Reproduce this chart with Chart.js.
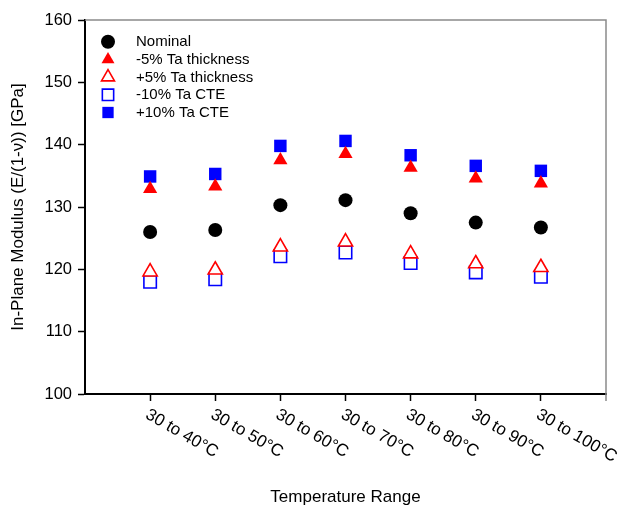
<!DOCTYPE html>
<html><head><meta charset="utf-8">
<script src="https://cdn.jsdelivr.net/npm/chart.js@4/dist/chart.umd.min.js"></script>
<style>html,body{margin:0;padding:0;background:#fff}</style>
</head><body>
<canvas id="c" width="641" height="507"></canvas>
<script>
const categories = ['30 to 40°C','30 to 50°C','30 to 60°C','30 to 70°C','30 to 80°C','30 to 90°C','30 to 100°C'];
const seriesLabels = ['Nominal','-5% Ta thickness','+5% Ta thickness','-10% Ta CTE','+10% Ta CTE'];
const nominal     = [126.0,126.3,130.3,131.1,129.0,127.5,126.7];
const minus5Thick = [132.9,133.3,137.5,138.5,136.3,134.6,133.8];
const plus5Thick  = [119.6,119.9,123.6,124.4,122.5,120.9,120.3];
const minus10CTE  = [118.0,118.4,122.1,122.7,121.0,119.5,118.8];
const plus10CTE   = [134.9,135.3,139.8,140.6,138.3,136.6,135.8];
const yTicks = [100,110,120,130,140,150,160];
const xTitle = 'Temperature Range';
const yTitle = 'In-Plane Modulus (E/(1-ν)) [GPa]';

const FONT = "'Liberation Sans', Arial, sans-serif";
const toPts = arr => arr.map((v, i) => ({x: i + 1, y: v}));

const styles = [
  {pointStyle:'circle',   radius:7,   bg:'#000000', border:'#000000', bw:0,   lr:7},
  {pointStyle:'triangle', radius:8.2, bg:'#ff0000', border:'#ff0000', bw:0,   lr:7.5},
  {pointStyle:'triangle', radius:8.2, bg:'#ffffff', border:'#ff0000', bw:1.6, lr:7.5},
  {pointStyle:'rect',     radius:8.8, bg:'#ffffff', border:'#0000ff', bw:1.6, lr:8},
  {pointStyle:'rect',     radius:8.8, bg:'#0000ff', border:'#0000ff', bw:0,   lr:8}
];
const seriesData = [nominal, minus5Thick, plus5Thick, minus10CTE, plus10CTE];

const datasets = seriesData.map((d, k) => ({
  label: seriesLabels[k],
  data: toPts(d),
  showLine: false,
  pointStyle: styles[k].pointStyle,
  pointRadius: styles[k].radius,
  pointHoverRadius: styles[k].radius,
  pointBackgroundColor: styles[k].bg,
  pointBorderColor: styles[k].border,
  pointBorderWidth: styles[k].bw,
  backgroundColor: styles[k].bg,
  borderColor: styles[k].border
}));

const framePlugin = {
  id: 'frame',
  afterDatasetsDraw(chart) {
    const {ctx, chartArea: a} = chart;
    ctx.save();
    ctx.strokeStyle = '#8a8a8a';
    ctx.lineWidth = 1.5;
    ctx.beginPath();
    ctx.moveTo(a.left, a.top);
    ctx.lineTo(a.right, a.top);
    ctx.lineTo(a.right, a.bottom + 7);
    ctx.stroke();
    ctx.restore();
  }
};

const xLabelPlugin = {
  id: 'xlabels',
  afterDraw(chart) {
    const {ctx} = chart;
    const sx = chart.scales.x;
    ctx.save();
    ctx.fillStyle = '#000';
    ctx.font = '17px ' + FONT;
    ctx.textAlign = 'left';
    ctx.textBaseline = 'top';
    categories.forEach((lab, i) => {
      const px = sx.getPixelForValue(i + 1);
      ctx.save();
      ctx.translate(px + 1, sx.top + 12);
      ctx.rotate(Math.PI / 6);
      ctx.fillText(lab, 0, 0);
      ctx.restore();
    });
    ctx.restore();
  }
};

const legendPlugin = {
  id: 'customLegend',
  afterDraw(chart) {
    const {ctx, chartArea: a} = chart;
    ctx.save();
    chart.data.datasets.forEach((ds, i) => {
      const cy = a.top + 21.7 + i * 17.7;
      const cx = a.left + 23;
      ctx.fillStyle = styles[i].bg;
      ctx.strokeStyle = styles[i].border;
      ctx.lineWidth = styles[i].bw;
      Chart.helpers.drawPoint(ctx, {pointStyle: styles[i].pointStyle, radius: styles[i].lr, borderWidth: styles[i].bw, rotation: 0}, cx, cy);
      ctx.fillStyle = '#000';
      ctx.font = '15px ' + FONT;
      ctx.textAlign = 'left';
      ctx.textBaseline = 'middle';
      ctx.fillText(ds.label, a.left + 51, cy + 0.5);
    });
    ctx.restore();
  }
};

new Chart(document.getElementById('c'), {
  type: 'scatter',
  data: {datasets},
  plugins: [framePlugin, xLabelPlugin, legendPlugin],
  options: {
    responsive: false,
    animation: false,
    events: [],
    layout: {padding: {top: 20, right: 35, left: 0, bottom: 0}},
    plugins: {legend: {display: false}, tooltip: {enabled: false}},
    scales: {
      x: {
        type: 'linear',
        min: 0, max: 8,
        afterBuildTicks: s => { s.ticks = categories.map((c, i) => ({value: i + 1})); },
        afterFit: s => { s.height = 113; },
        grid: {drawOnChartArea: false, drawTicks: true, tickLength: 7, tickWidth: 1.5, tickColor: '#000'},
        border: {color: '#000', width: 2},
        ticks: {display: false},
        title: {display: true, text: xTitle, color: '#000', font: {family: FONT, size: 17}, padding: {top: 0, bottom: -1}}
      },
      y: {
        min: 100, max: 160,
        afterBuildTicks: s => { s.ticks = yTicks.map(v => ({value: v})); },
        afterFit: s => { s.width = 85; },
        grid: {drawOnChartArea: false, drawTicks: true, tickLength: 7, tickWidth: 1.5, tickColor: '#000'},
        border: {color: '#000', width: 2},
        ticks: {color: '#000', padding: 6, font: {family: FONT, size: 16.5}},
        title: {display: true, text: yTitle, color: '#000', font: {family: FONT, size: 17}, padding: {top: 8, bottom: 0}}
      }
    }
  }
});
</script>
</body></html>
